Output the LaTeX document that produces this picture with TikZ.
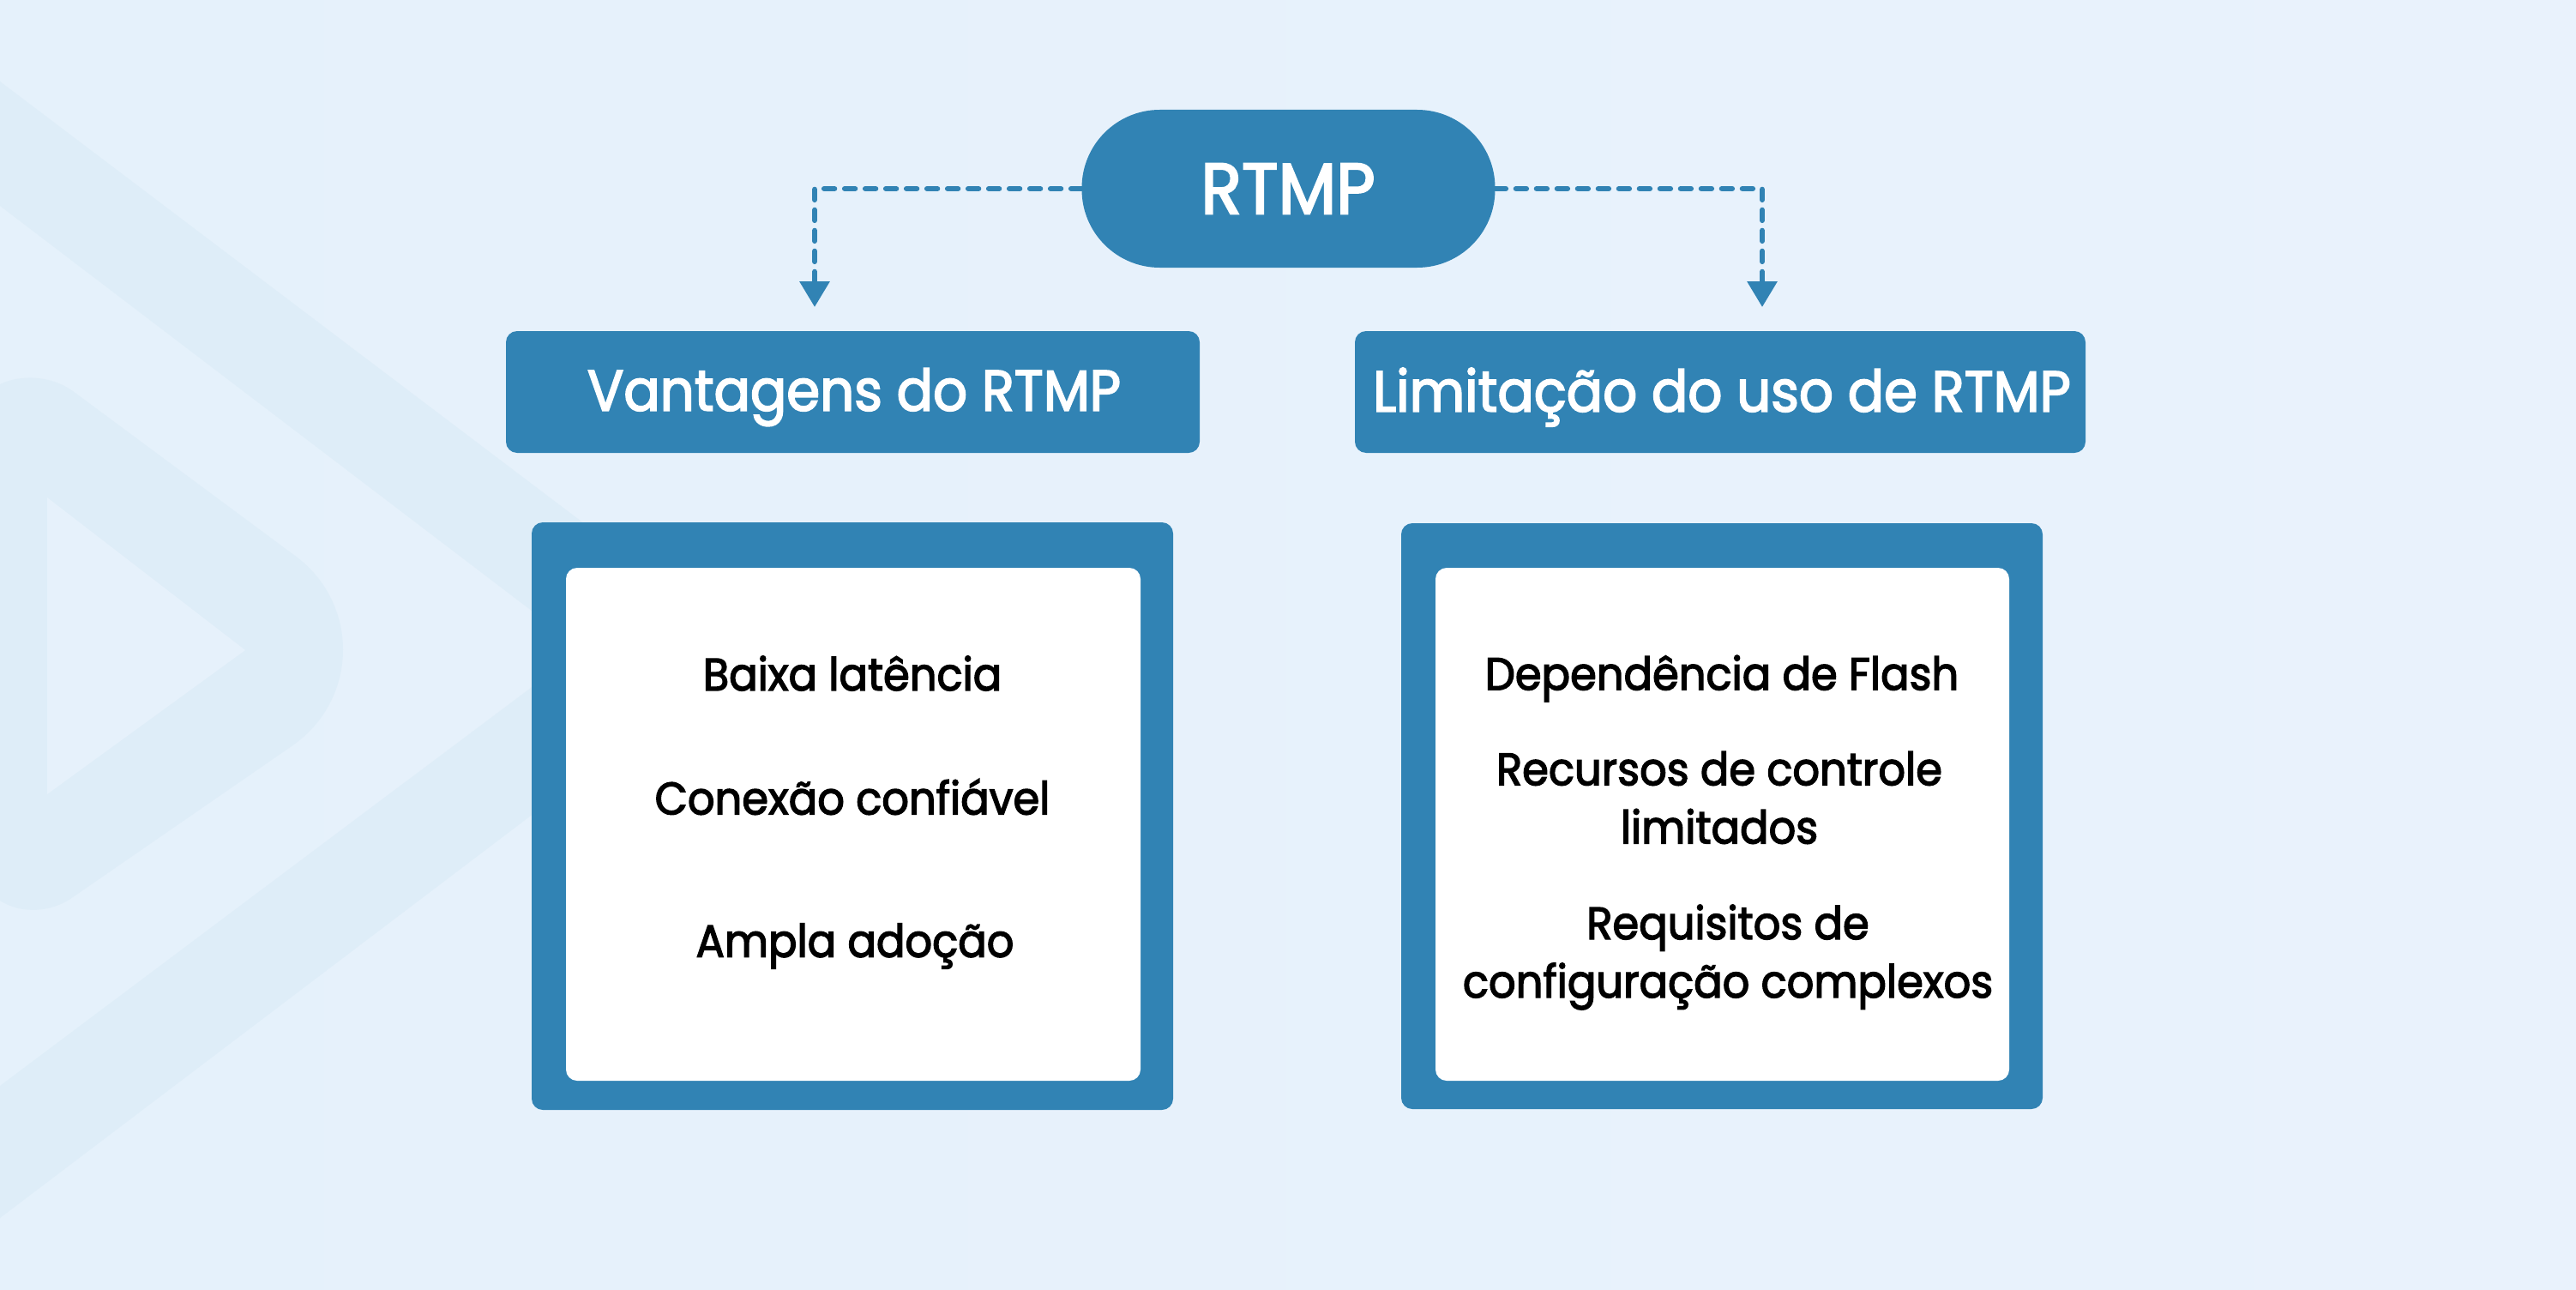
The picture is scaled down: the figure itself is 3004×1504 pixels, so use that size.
\documentclass[tikz,border=0pt]{standalone}
\usepackage{fontspec}
\usetikzlibrary{arrows.meta}
\setmainfont{Poppins}
\newfontfamily\pf[FakeStretch=0.935,FakeBold=2.6]{Poppins}
\definecolor{bluefill}{HTML}{3183B4}
\definecolor{bgA}{HTML}{E5F1FB}
\definecolor{bgB}{HTML}{E8F1FB}
\definecolor{bgC}{HTML}{E9F2FC}
\definecolor{wm}{HTML}{DEEDF8}
\definecolor{wminner}{HTML}{E6F1FB}
\tikzset{
  x=0.5pt,y=-0.5pt,
  bluebox/.style={fill=bluefill,text=white,draw=none,inner sep=0pt,rounded corners=6.5pt,align=center},
  whitebox/.style={fill=white,draw=none,inner sep=0pt,rounded corners=6.5pt},
  pill/.style={fill=bluefill,text=white,draw=none,inner sep=0pt,rounded corners=45.5pt,align=center},
  bodytext/.style={text=black,inner sep=0pt,align=center,font=\pf\fontsize{26.5pt}{34pt}\selectfont},
  headtext/.style={text=white,inner sep=0pt,font=\pf\fontsize{33.5pt}{40pt}\selectfont},
  link/.style={draw=bluefill,line width=3.2pt,line cap=round,dash pattern=on 6pt off 6pt,-{Triangle[length=15pt,width=17pt]}},
}
\begin{document}
\begin{tikzpicture}
\useasboundingbox (0,0) rectangle (3004,1504);
\shade[left color=bgA,middle color=bgB,right color=bgC] (0,0) rectangle (3004,1504);
% watermark
\fill[wm] (0,95) -- (875,757) -- (0,1420) -- (0,1266) -- (679,757) -- (0,240) -- cycle;
\fill[wm] (0,448) .. controls (25,436) and (60,438) .. (85,456) -- (340,645)
  .. controls (420,700) and (420,815) .. (340,870) -- (85,1046)
  .. controls (60,1064) and (25,1066) .. (0,1050) -- cycle;
\fill[wminner] (55,580) -- (286,758) -- (55,926) -- cycle;
% nodes
\node[pill,minimum width=482pt*0.5,minimum height=184pt*0.5] (rtmp) at (1502.5,220) {};
\node[text=white,inner sep=0pt,font=\pf\fontsize{42pt}{44pt}\selectfont] (rtmpt) at (1502,220) {RTMP};
\node[bluebox,minimum width=809pt*0.5,minimum height=142pt*0.5] (hl) at (994.5,457) {};
\node[bluebox,minimum width=852pt*0.5,minimum height=142pt*0.5] (hr) at (2006,457) {};
\node[headtext] (hlt) at (996,463) {Vantagens do RTMP};
\node[headtext] (hrt) at (2008,463) {Limitação do uso de RTMP};
\node[bluebox,minimum width=748pt*0.5,minimum height=685pt*0.5] (ol) at (994,951.5) {};
\node[bluebox,minimum width=748pt*0.5,minimum height=683pt*0.5] (or) at (2008,951.5) {};
\node[whitebox,minimum width=670pt*0.5,minimum height=598pt*0.5] (il) at (995,961) {};
\node[whitebox,minimum width=669pt*0.5,minimum height=598pt*0.5] (ir) at (2008.5,961) {};
\node[bodytext] (a1) at (994,785) {Baixa latência};
\node[bodytext] (a2) at (994,929) {Conexão confiável};
\node[bodytext] (a3) at (997,1103) {Ampla adoção};
\node[bodytext] (b1) at (2008,791) {Dependência de Flash};
\node[bodytext] (b2) at (2005,930) {Recursos de controle\\limitados};
\node[bodytext] (b3) at (2015,1116) {Requisitos de\\configuração complexos};
% connectors
\coordinate (tl) at (950,358);
\coordinate (tr) at (2055,358);
\draw[link] (rtmp.west) -| (tl);
\draw[link] (rtmp.east) -| (tr);
\end{tikzpicture}
\end{document}
